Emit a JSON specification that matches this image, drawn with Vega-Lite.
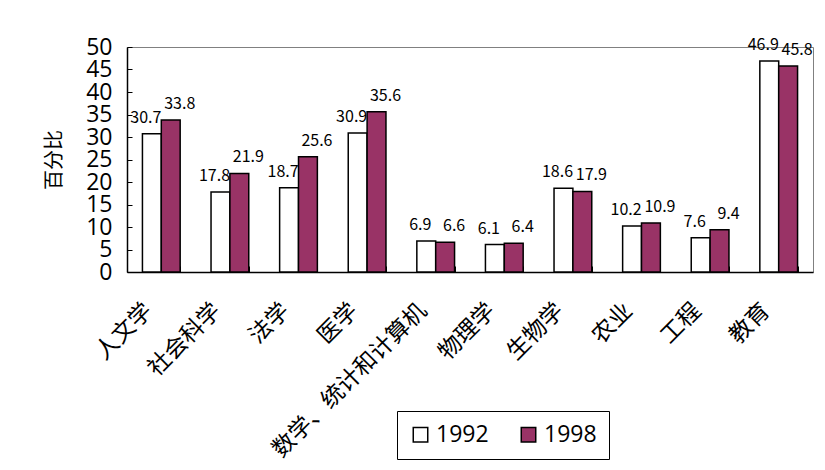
{
  "$schema": "https://vega.github.io/schema/vega-lite/v6.json",
  "width": 686,
  "height": 225,
  "autosize": {"type": "none"},
  "padding": {"left": 127, "top": 47, "right": 12, "bottom": 198},
  "background": "white",
  "config": {"view": {"stroke": "#808080"}, "font": "Noto Sans CJK SC"},
  "data": {"values": [
    {"cat": "人文学", "year": "1992", "value": 30.7},
    {"cat": "人文学", "year": "1998", "value": 33.8},
    {"cat": "社会科学", "year": "1992", "value": 17.8},
    {"cat": "社会科学", "year": "1998", "value": 21.9},
    {"cat": "法学", "year": "1992", "value": 18.7},
    {"cat": "法学", "year": "1998", "value": 25.6},
    {"cat": "医学", "year": "1992", "value": 30.9},
    {"cat": "医学", "year": "1998", "value": 35.6},
    {"cat": "数学、统计和计算机", "year": "1992", "value": 6.9},
    {"cat": "数学、统计和计算机", "year": "1998", "value": 6.6},
    {"cat": "物理学", "year": "1992", "value": 6.1},
    {"cat": "物理学", "year": "1998", "value": 6.4},
    {"cat": "生物学", "year": "1992", "value": 18.6},
    {"cat": "生物学", "year": "1998", "value": 17.9},
    {"cat": "农业", "year": "1992", "value": 10.2},
    {"cat": "农业", "year": "1998", "value": 10.9},
    {"cat": "工程", "year": "1992", "value": 7.6},
    {"cat": "工程", "year": "1998", "value": 9.4},
    {"cat": "教育", "year": "1992", "value": 46.9},
    {"cat": "教育", "year": "1998", "value": 45.8}
  ]},
  "encoding": {
    "x": {
      "field": "cat", "type": "nominal", "sort": null,
      "scale": {"paddingInner": 0.45, "paddingOuter": 0.225},
      "axis": {
        "title": null, "labelAngle": -45, "labelFontSize": 23, "labelFont": "Noto Sans CJK SC",
        "labelColor": "black", "tickBand": "extent", "tickSize": -6, "tickColor": "black",
        "domainColor": "black", "domainWidth": 1.5, "labelPadding": 33, "labelOffset": -21,
        "labelOverlap": false, "labelLimit": 400
      }
    },
    "xOffset": {"field": "year", "type": "nominal", "sort": ["1992", "1998"], "scale": {"paddingInner": 0}},
    "y": {
      "field": "value", "type": "quantitative",
      "scale": {"domain": [0, 50], "nice": false},
      "axis": {
        "title": "百分比", "titleFont": "Noto Sans CJK SC", "titleFontSize": 20, "titleFontWeight": "normal",
        "titleColor": "black", "titlePadding": 21,
        "values": [0, 5, 10, 15, 20, 25, 30, 35, 40, 45, 50],
        "labelFont": "Open Sans", "labelFontSize": 23, "labelColor": "black", "labelPadding": 20,
        "tickSize": -5, "tickColor": "black", "domainColor": "black", "domainWidth": 1.5,
        "grid": false, "labelOverlap": false, "labelBound": false, "labelFlush": false
      }
    }
  },
  "layer": [
    {
      "mark": {"type": "bar", "stroke": "black", "strokeWidth": 1.5},
      "encoding": {
        "fill": {
          "field": "year", "type": "nominal",
          "scale": {"domain": ["1992", "1998"], "range": ["white", "#993366"]},
          "legend": {
            "orient": "none", "legendX": 270, "legendY": 364, "direction": "horizontal", "title": null,
            "strokeColor": "black", "padding": 12, "fillColor": "white",
            "symbolType": "square", "symbolSize": 210, "symbolStrokeColor": "black", "symbolStrokeWidth": 1.5,
            "labelFontSize": 23, "labelFont": "Open Sans", "labelColor": "black", "columnPadding": 28
          }
        }
      }
    },
    {
      "transform": [{"filter": "datum.year == '1992'"}],
      "mark": {"type": "text", "dy": -11, "dx": -6, "fontSize": 16, "baseline": "alphabetic", "color": "black", "font": "Noto Sans CJK SC"},
      "encoding": {"text": {"field": "value", "type": "quantitative", "format": ".1f"}}
    },
    {
      "transform": [{"filter": "datum.year == '1998'"}],
      "mark": {"type": "text", "dy": -11, "dx": 9, "fontSize": 16, "baseline": "alphabetic", "color": "black", "font": "Noto Sans CJK SC"},
      "encoding": {"text": {"field": "value", "type": "quantitative", "format": ".1f"}}
    }
  ]
}
